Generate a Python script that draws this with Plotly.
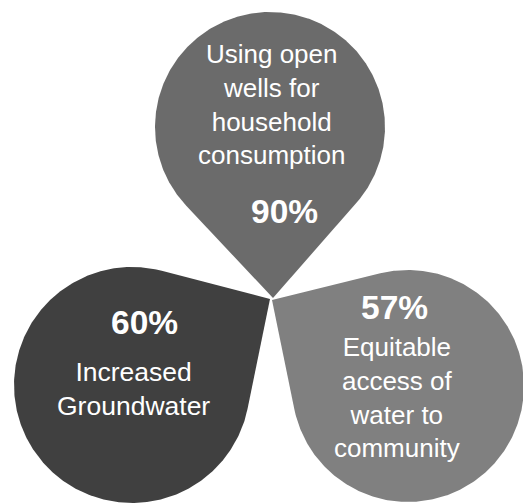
import numpy as np
import plotly.graph_objects as go

# ---- data ----
labels = ["Using open<br>wells for<br>household<br>consumption",
          "Increased<br>Groundwater",
          "Equitable<br>access of<br>water to<br>community"]
values = [90, 60, 57]

# ---- styling / layout geometry (pixel space) ----
colors = ["#6b6b6b", "#404040", "#808080"]
centers = [(270, 127), (132, 385), (408, 386)]
radii = [115, 118, 116]
tips = [(273, 298), (270, 299), (272, 300)]
label_pos = [(271, 104), (133, 389), (397, 397)]
label_size = [26, 26.5, 26]
pct_pos = [(284, 211), (144, 322), (394, 307)]

W, H = 523, 504


def teardrop(c, r, t, n=400):
    cx, cy = c
    tx, ty = t
    dx, dy = tx - cx, ty - cy
    D = np.hypot(dx, dy)
    u = np.arctan2(dy, dx)
    a = np.arccos(r / D)
    phi = np.linspace(u + a, u + 2 * np.pi - a, n)
    xs = np.concatenate([cx + r * np.cos(phi), [tx], [cx + r * np.cos(phi[0])]])
    ys = np.concatenate([cy + r * np.sin(phi), [ty], [cy + r * np.sin(phi[0])]])
    return xs, ys


fig = go.Figure()
for i in [1, 2, 0]:
    xs, ys = teardrop(centers[i], radii[i], tips[i])
    fig.add_trace(go.Scatter(x=xs, y=ys, mode="lines", fill="toself",
                             fillcolor=colors[i], line=dict(width=0, color=colors[i]),
                             hoverinfo="skip", showlegend=False))

font = "Liberation Sans, Arial, sans-serif"
for i in range(3):
    fig.add_annotation(x=label_pos[i][0], y=label_pos[i][1], text=labels[i],
                       showarrow=False, xanchor="center", yanchor="middle",
                       font=dict(family=font, size=label_size[i], color="white"))
    fig.add_annotation(x=pct_pos[i][0], y=pct_pos[i][1], text=f"<b>{values[i]}%</b>",
                       showarrow=False, xanchor="center", yanchor="middle",
                       font=dict(family=font, size=33.5, color="white"))

fig.update_layout(width=W, height=H, margin=dict(l=0, r=0, t=0, b=0),
                  paper_bgcolor="white", plot_bgcolor="white",
                  xaxis=dict(range=[0, W], visible=False, fixedrange=True),
                  yaxis=dict(range=[H, 0], visible=False, fixedrange=True))
fig.write_html("out.html", config={"displayModeBar": False},
               post_script="document.body.style.margin='0';document.body.style.overflow='hidden';")
